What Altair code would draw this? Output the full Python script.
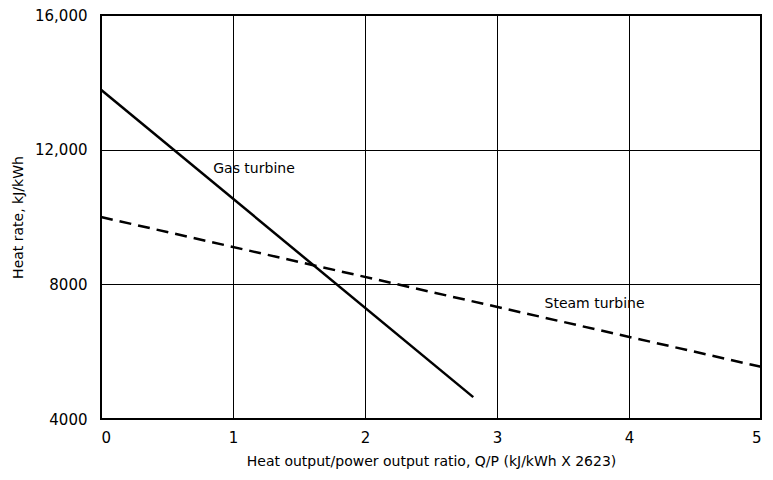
import altair as alt
import pandas as pd

# Data
gas_x = [0.0, 2.82]
gas_y = [13780, 4650]
steam_x = [0.0, 5.0]
steam_y = [10000, 5550]

x_ticks = [0, 1, 2, 3, 4, 5]
y_ticks = [4000, 8000, 12000, 16000]

label_text = ["Gas turbine", "Steam turbine"]
label_x = [0.85, 3.36]
label_y = [11440, 7410]

FONT = "DejaVu Sans"

gas = pd.DataFrame({"x": gas_x, "y": gas_y})
steam = pd.DataFrame({"x": steam_x, "y": steam_y})
labels = pd.DataFrame({"t": label_text, "x": label_x, "y": label_y})

xscale = alt.Scale(domain=[0, 5], nice=False, zero=False)
yscale = alt.Scale(domain=[4000, 16000], nice=False, zero=False)

xaxis = alt.Axis(
    values=x_ticks, format="d",
    title="Heat output/power output ratio, Q/P (kJ/kWh X 2623)",
    grid=True, gridColor="black", gridWidth=1, gridOpacity=1,
    domain=False, ticks=False, labelPadding=11, titlePadding=9,
    labelFont=FONT, titleFont=FONT, labelFontSize=15, titleFontSize=14,
    titleFontWeight="normal", labelColor="black", titleColor="black",
)
yaxis = alt.Axis(
    values=y_ticks, title="Heat rate, kJ/kWh",
    grid=True, gridColor="black", gridWidth=1, gridOpacity=1,
    domain=False, ticks=False, labelPadding=14, titlePadding=9,
    labelFont=FONT, titleFont=FONT, labelFontSize=15, titleFontSize=14,
    titleFontWeight="normal", labelColor="black", titleColor="black",
    labelExpr="datum.value >= 10000 ? format(datum.value, ',') : format(datum.value, 'd')",
)

gas_line = alt.Chart(gas).mark_line(color="black", strokeWidth=2.5).encode(
    x=alt.X("x:Q", scale=xscale, axis=xaxis),
    y=alt.Y("y:Q", scale=yscale, axis=yaxis),
)
steam_line = alt.Chart(steam).mark_line(color="black", strokeWidth=2.5, strokeDash=[12, 7]).encode(
    x=alt.X("x:Q", scale=xscale),
    y=alt.Y("y:Q", scale=yscale),
)
text = alt.Chart(labels).mark_text(align="left", baseline="middle", font=FONT, fontSize=14, color="black").encode(
    x=alt.X("x:Q", scale=xscale),
    y=alt.Y("y:Q", scale=yscale),
    text="t:N",
)

chart = alt.layer(gas_line, steam_line, text).properties(
    width=660, height=404,
    autosize=alt.AutoSizeParams(type="none"),
    padding={"left": 93, "top": 7, "right": 4, "bottom": 52},
).configure_view(stroke="black", strokeWidth=2)

chart.save("out.html", embed_options={"renderer": "svg", "actions": False})
